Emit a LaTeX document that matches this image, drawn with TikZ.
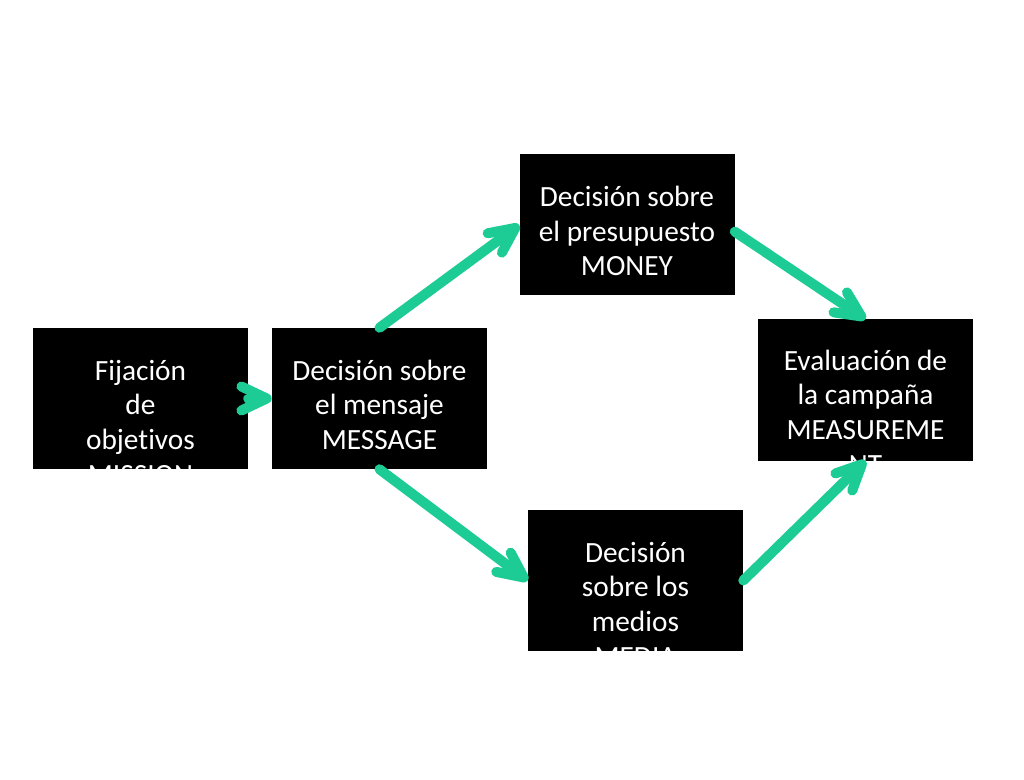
\documentclass[tikz,border=0pt]{standalone}
\usepackage{fontspec}
\setmainfont{Carlito}[Ligatures=NoCommon]
\usetikzlibrary{arrows.meta}
\definecolor{arrowgreen}{RGB}{28,204,148}
\begin{document}
\begin{tikzpicture}[x=0.75pt,y=-0.75pt,
  box/.style={fill=black, draw=none, minimum width=161.25pt, minimum height=105.75pt, inner sep=0pt},
  txt/.style={text=white, font=\fontsize{22}{26}\selectfont, align=center, anchor=north, inner sep=0pt},
  flow/.style={draw=arrowgreen, line width=7.5pt, line cap=round,
    -{Straight Barb[length=19pt,width=18pt,round]}}
]
\fill[white] (0,0) rectangle (1024,780);
\useasboundingbox (0,0) rectangle (1024,780);
% boxes
\node[box] (b1) at (140.5,398.5) {};
\node[box] (b2) at (379.5,398.5) {};
\node[box] (b3) at (627,225) {};
\node[box] (b4) at (635.5,580.5) {};
\node[box] (b5) at (865.5,390) {};
% texts
\node[txt] (t1) at ([yshift=-20.8pt]b1.north) {\strut Fijación\\de\\objetivos\\MISSION};
\node[txt] (t2) at ([yshift=-20.8pt]b2.north) {\strut Decisión sobre\\el mensaje\\MESSAGE};
\node[txt] (t3) at ([yshift=-20.8pt]b3.north) {\strut Decisión sobre\\el presupuesto\\MONEY};
\node[txt] (t4) at ([yshift=-20.8pt]b4.north) {\strut Decisión\\sobre los\\medios\\MEDIA};
\node[txt] (t5) at ([yshift=-19.8pt]b5.north) {\strut Evaluación de\\la campaña\\MEASUREME\\NT};
% connectors
\draw[flow] (b1.east) -- (b2.west);
\draw[flow] (b2.north) -- (b3.west);
\draw[flow] ([yshift=-5pt]b3.east) -- (b5.north);
\draw[flow] (b2.south) -- (b4.west);
\draw[flow] (b4.east) -- (b5.south);
\end{tikzpicture}
\end{document}
